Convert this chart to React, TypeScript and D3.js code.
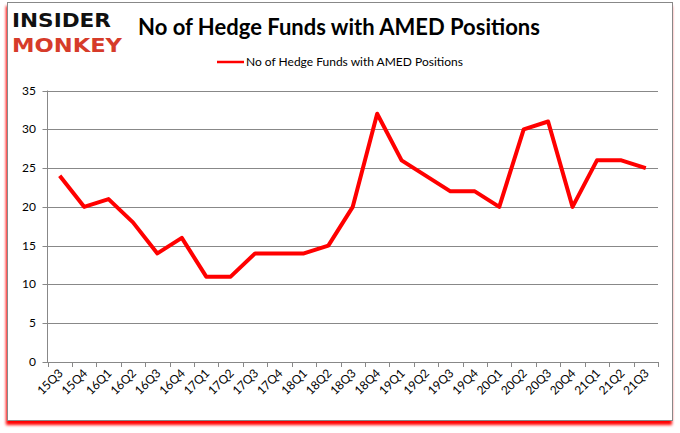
import { useEffect, useRef } from 'react';
import * as d3 from 'd3';

const quarters = [
    '15Q3', '15Q4', '16Q1', '16Q2', '16Q3', '16Q4', '17Q1', '17Q2', '17Q3', '17Q4',
    '18Q1', '18Q2', '18Q3', '18Q4', '19Q1', '19Q2', '19Q3', '19Q4', '20Q1', '20Q2',
    '20Q3', '20Q4', '21Q1', '21Q2', '21Q3',
];
const funds = [24, 20, 21, 18, 14, 16, 11, 11, 14, 14, 14, 15, 20, 32, 26, 24, 22, 22, 20, 30, 31, 20, 26, 26, 25];
const yTicks = [0, 5, 10, 15, 20, 25, 30, 35];

const seriesName = 'No of Hedge Funds with AMED Positions';

const App = () => {
    const svgRef = useRef<SVGSVGElement>(null);

    useEffect(() => {
        if (!svgRef.current) return;
        const svg = d3.select(svgRef.current);
        svg.selectAll('*').remove();

        const width = 680;
        const height = 433;
        const font = 'Lato, "Open Sans", sans-serif';
        const left = 47.5, right = 658, top = 90.5, bottom = 362;

        // рамка с красной тенью
        const defs = svg.append('defs');
        const f = defs.append('filter').attr('id', 'sh').attr('x', '-5%').attr('y', '-5%').attr('width', '110%').attr('height', '112%');
        f.append('feGaussianBlur').attr('in', 'SourceAlpha').attr('stdDeviation', 1.5).attr('result', 'b');
        f.append('feOffset').attr('in', 'b').attr('dx', -1).attr('dy', 4).attr('result', 'o');
        f.append('feFlood').attr('flood-color', '#ff0000');
        f.append('feComposite').attr('in2', 'o').attr('operator', 'in').attr('result', 's');
        const m = f.append('feMerge');
        m.append('feMergeNode').attr('in', 's');
        m.append('feMergeNode').attr('in', 'SourceGraphic');

        svg.append('rect')
            .attr('x', 7.5).attr('y', 2.5).attr('width', 665).attr('height', 418)
            .attr('fill', '#fff').attr('stroke', '#888').attr('stroke-width', 1)
            .attr('filter', 'url(#sh)');

        // логотип
        svg.append('text')
            .attr('x', 12).attr('y', 27)
            .attr('font-family', '"DejaVu Sans", sans-serif').attr('font-weight', 'bold')
            .attr('font-size', 20).attr('fill', '#111')
            .attr('textLength', 99).attr('lengthAdjust', 'spacingAndGlyphs')
            .text('INSIDER');
        svg.append('text')
            .attr('x', 12).attr('y', 52)
            .attr('font-family', '"DejaVu Sans", sans-serif').attr('font-weight', 'bold')
            .attr('font-size', 20).attr('fill', '#d63b2a')
            .attr('textLength', 110).attr('lengthAdjust', 'spacingAndGlyphs')
            .text('MONKEY');

        // заголовок
        svg.append('text')
            .attr('x', 339).attr('y', 35)
            .attr('text-anchor', 'middle')
            .attr('font-family', font).attr('font-weight', 'bold').attr('font-size', 22)
            .attr('fill', '#000')
            .text(seriesName);

        // легенда
        svg.append('line')
            .attr('x1', 217).attr('x2', 244).attr('y1', 62).attr('y2', 62)
            .attr('stroke', '#ff0000').attr('stroke-width', 2.5);
        svg.append('text')
            .attr('x', 246).attr('y', 66)
            .attr('font-family', font).attr('font-size', 12).attr('fill', '#000')
            .text(seriesName);

        const x = d3.scaleBand().domain(quarters).range([left, right]);
        const y = d3.scaleLinear().domain([0, 35]).range([bottom, top]);

        // сетка
        svg.append('g')
            .selectAll('line')
            .data(yTicks)
            .enter()
            .append('line')
            .attr('x1', left - 5).attr('x2', right)
            .attr('y1', d => Math.round(y(d)) + 0.5).attr('y2', d => Math.round(y(d)) + 0.5)
            .attr('stroke', '#888').attr('stroke-width', 1);

        svg.append('g')
            .selectAll('text')
            .data(yTicks)
            .enter()
            .append('text')
            .attr('x', 36).attr('y', d => y(d) + 4)
            .attr('text-anchor', 'end')
            .attr('font-family', font).attr('font-size', 12).attr('fill', '#000')
            .text(d => d);

        // оси
        svg.append('line')
            .attr('x1', left).attr('x2', left).attr('y1', top).attr('y2', bottom)
            .attr('stroke', '#888');

        const bounds = quarters.map(q => x(q) || 0).concat([right]);
        svg.append('g')
            .selectAll('line')
            .data(bounds)
            .enter()
            .append('line')
            .attr('x1', d => Math.round(d) + 0.5).attr('x2', d => Math.round(d) + 0.5)
            .attr('y1', bottom).attr('y2', bottom + 5)
            .attr('stroke', '#888');

        svg.append('g')
            .selectAll('text')
            .data(quarters)
            .enter()
            .append('text')
            .attr('transform', d => `translate(${(x(d) || 0) + x.bandwidth() / 2 + 4},${bottom + 12}) rotate(-45)`)
            .attr('text-anchor', 'end')
            .attr('font-family', font).attr('font-size', 12).attr('fill', '#000')
            .text(d => d);

        // линия
        const line = d3.line<number>()
            .x((_, i) => (x(quarters[i]) || 0) + x.bandwidth() / 2)
            .y(d => y(d));

        svg.append('path')
            .datum(funds)
            .attr('d', line)
            .attr('fill', 'none')
            .attr('stroke', '#ff0000')
            .attr('stroke-width', 4)
            .attr('stroke-linejoin', 'round');

        svg.attr('width', width).attr('height', height);
    }, []);

    return (
        <svg ref={svgRef} style={{ position: 'absolute', left: 0, top: 0, background: '#fff' }}></svg>
    );
};

export default App;
